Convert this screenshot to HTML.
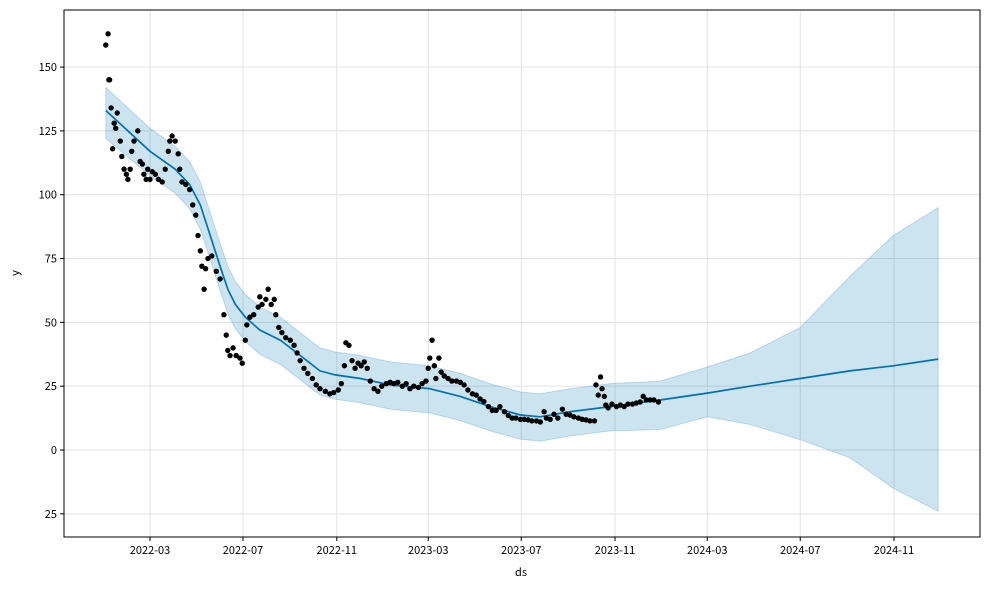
<!DOCTYPE html>
<html><head><meta charset="utf-8"><style>
html,body{margin:0;padding:0;background:#fff;}
svg{display:block;font-family:"Noto Sans CJK KR","Liberation Sans",sans-serif;}
</style></head><body>
<svg id="chart" width="989" height="590" viewBox="0 0 989 590">
<g id="grid"></g>
<g id="band"></g>
<g id="line"></g>
<g id="pts"></g>
<rect x="64" y="10" width="916" height="527" fill="none" stroke="#000" stroke-width="1"/>
<g id="xt"></g>
<g id="yt"></g>
<text x="521" y="576" font-size="11" text-anchor="middle">ds</text>
<text x="19" y="273" font-size="11" text-anchor="middle" transform="rotate(-90 19 273)">y</text>
</svg>
<script>
// days offset from 2022-03-01
const obsDay=[-58,-55,-54,-53,-51,-49,-47,-45,-43,-39,-37,-34,-31,-29,-26,-24,-21,-16,-13,-10,-8,-5,-3,0,3,7,11,16,20,24,26,29,33,37,39,42,47,52,56,60,63,66,68,71,73,76,81,87,92,97,100,102,105,109,113,118,121,125,127,131,136,142,144,147,152,155,159,163,165,169,173,178,184,189,193,197,202,207,213,218,223,230,236,241,247,251,255,257,261,265,269,273,277,281,285,289,294,299,304,310,315,320,325,331,336,341,346,352,357,362,365,367,370,373,375,379,382,386,391,396,402,407,412,417,423,428,433,438,444,449,454,459,465,470,475,480,486,491,496,501,507,512,517,520,525,530,535,541,546,551,556,562,567,572,577,583,585,588,591,593,596,598,601,606,612,617,622,627,633,638,643,647,651,656,661,667];
const obsVal=[158.6,163,145,145,134,118,128,126,132,121,115,110,108,106,110,117,121,125,113,112,108,106,110,106,109,108,106,105,110,117,121,123,121,116,110,105,104,102,96,92,84,78,72,63,71,75,76,70,67,53,45,39,37,40,37,36,34,43,49,52,53,56,60,57,59,63,57,59,53,48,46,44,43,41,38,35,32,30,28,25.5,24,23,22,22.5,23.5,26,33,42,41,35,32,34,33,34.5,32,27,24,23,25,26,26.5,26,26.5,25,26,24,25,24.5,26,27,32,36,43,33,28,36,30.5,29,28,27,27,26.5,25.5,23.5,22,21.5,20,19,17,15.5,15.5,17,15,13.5,12.5,12.5,12,12,11.8,11.4,11.4,11,15,12.5,12,14,12.5,16,14,13.7,13,12.5,12,11.8,11.4,11.4,25.5,21.5,28.6,24,21,17.6,16.5,18,17,17.6,17,18,18,18.4,18.8,21,19.6,19.6,19.6,18.8];
const fcDay=[-58,0,33,52,66,79,92,102,112,125,144,171,197,223,243,276,315,367,407,446,486,512,551,604,669,731,787,853,918,975,1034];
const fcVal=[133,117,110,104,96,84,72,63,57,52,47,43,37,31,29.4,28,25.5,24,21,17,13.7,13,15,17,19.6,22.3,25,28,31,33,35.6];
const fcUpper=[142,126,119,113,105,93,81,72,66,61,56,52,46,40,38.4,37,34.5,33,30,26,22.7,22,24,26,27,32.5,38,48,68,84,95];
const fcLower=[122,107.5,100.5,94.5,86.5,74.5,62.5,53.5,47.5,42.5,37.5,33.5,27.5,21.5,19.9,18.5,16,14.5,11.5,7.5,4.2,3.5,5.5,7.5,8,13,10,4,-3,-15,-24];
const yTicks=[150,125,100,75,50,25,0,-25];
const yTickLabels=["150","125","100","75","50","25","0","25"];
const xTickDays=[0,122,245,365,487,610,731,853,976];
const xTickLabels=["2022-03","2022-07","2022-11","2023-03","2023-07","2023-11","2024-03","2024-07","2024-11"];

const NS="http://www.w3.org/2000/svg";
const X=d=>150+0.7623*d;
const Y=v=>450-2.553*v;
function mk(tag,attrs,parent){const e=document.createElementNS(NS,tag);for(const k in attrs)e.setAttribute(k,attrs[k]);parent.appendChild(e);return e;}
const grid=document.getElementById('grid'),xt=document.getElementById('xt'),yt=document.getElementById('yt');
yTicks.forEach((v,i)=>{
  const l=mk('line',{x1:64,x2:980,y1:Y(v),y2:Y(v),stroke:'#e3e3e3','stroke-width':1},grid);
  
  
  mk('line',{x1:60,x2:64,y1:Y(v),y2:Y(v),stroke:'#000'},yt);
  const t=mk('text',{x:57,y:Y(v)+4,'font-size':11,'text-anchor':'end'},yt);
  t.textContent=yTickLabels[i];
  
  
});
xTickDays.forEach((d,i)=>{
  const l=mk('line',{x1:X(d),x2:X(d),y1:10,y2:537,stroke:'#e3e3e3','stroke-width':1},grid);
  
  
  mk('line',{x1:X(d),x2:X(d),y1:537,y2:541,stroke:'#000'},xt);
  const t=mk('text',{x:X(d),y:554,'font-size':11,'text-anchor':'middle'},xt);
  t.textContent=xTickLabels[i];
  
  
});
let up=fcDay.map((d,i)=>X(d).toFixed(1)+','+Y(fcUpper[i]).toFixed(1));
let lo=fcDay.map((d,i)=>X(d).toFixed(1)+','+Y(fcLower[i]).toFixed(1)).reverse();
const band=mk('polygon',{points:up.concat(lo).join(' '),fill:'#0072B2','fill-opacity':0.2,stroke:'#0072B2','stroke-opacity':0.2,'stroke-width':1},document.getElementById('band'));


const ln=mk('polyline',{points:fcDay.map((d,i)=>X(d).toFixed(1)+','+Y(fcVal[i]).toFixed(1)).join(' '),fill:'none',stroke:'#0072B2','stroke-width':1.7},document.getElementById('line'));


const pts=document.getElementById('pts');
obsDay.forEach((d,i)=>{
  const c=mk('circle',{cx:X(d),cy:Y(obsVal[i]),r:2.7,fill:'#000'},pts);
  
  
});
</script>
</body></html>
